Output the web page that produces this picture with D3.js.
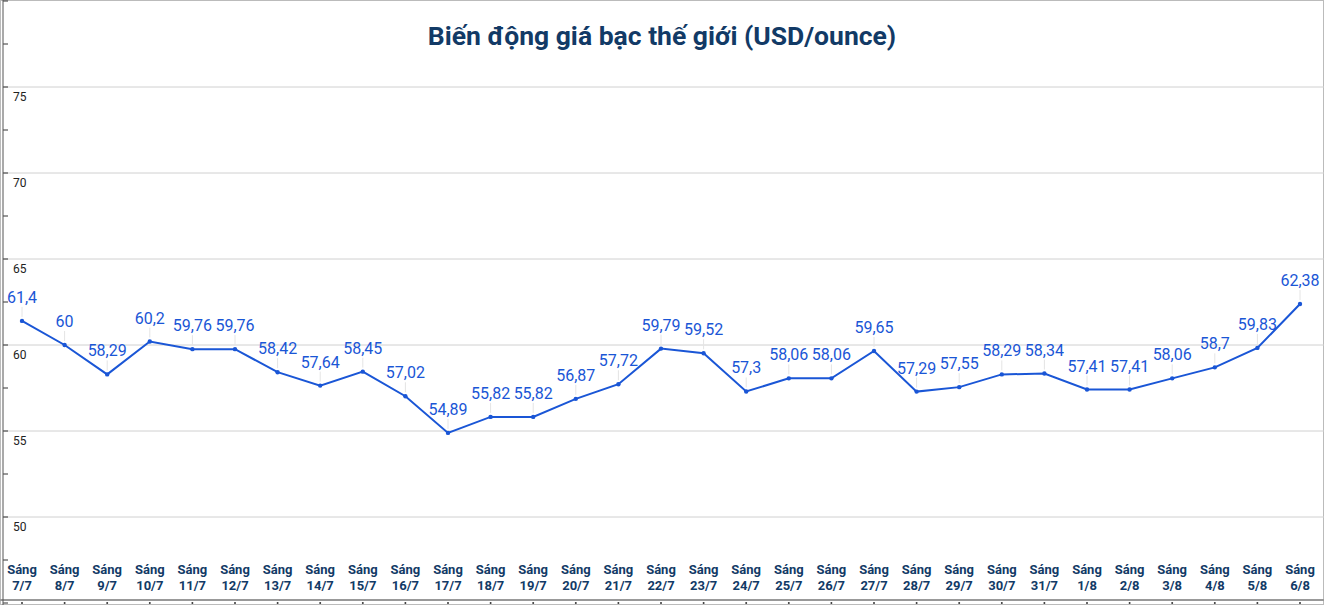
<!DOCTYPE html><html><head><meta charset="utf-8">
<script src="https://cdn.jsdelivr.net/npm/d3@7"></script>
<style>body{margin:0;background:#fff;}svg{display:block;font-family:Roboto,"Noto Sans",sans-serif;}</style></head><body>
<svg id="c" width="1324" height="605"></svg>
<script>
const dates=["7/7","8/7","9/7","10/7","11/7","12/7","13/7","14/7","15/7","16/7","17/7","18/7","19/7","20/7","21/7","22/7","23/7","24/7","25/7","26/7","27/7","28/7","29/7","30/7","31/7","1/8","2/8","3/8","4/8","5/8","6/8"];
const values=[61.4,60,58.29,60.2,59.76,59.76,58.42,57.64,58.45,57.02,54.89,55.82,55.82,56.87,57.72,59.79,59.52,57.3,58.06,58.06,59.65,57.29,57.55,58.29,58.34,57.41,57.41,58.06,58.7,59.83,62.38];
const yTicks=[50,55,60,65,70,75];
const title="Biến động giá bạc thế giới (USD/ounce)";
const svg=d3.select("#c");
svg.append("rect").attr("x",0.5).attr("y",0.5).attr("width",1323).attr("height",604).attr("fill","none").attr("stroke","#bbb");
svg.append("line").attr("x1",0).attr("x2",1324).attr("y1",600).attr("y2",600).attr("stroke","#999").attr("stroke-width",2);
const x=d3.scalePoint().domain(dates).range([22,1300]);
const y=d3.scaleLinear().domain([50,75]).range([517,87]);
svg.append("text").attr("x",662).attr("y",45).attr("text-anchor","middle").attr("font-size",26.5).attr("font-weight","bold").attr("fill","#123a66").text(title);
svg.selectAll(".g").data(yTicks).join("line").attr("x1",3).attr("x2",1324).attr("y1",d=>y(d)).attr("y2",d=>y(d)).attr("stroke","#d0d0d0");
svg.selectAll(".yl").data(yTicks).join("text").attr("x",13).attr("y",d=>y(d)+14).attr("font-size",12).attr("fill","#222").text(d=>d);
const minor=d3.range(45,81,2.5);
svg.selectAll(".mt").data(minor).join("line").attr("x1",3).attr("x2",8).attr("y1",d=>y(d)).attr("y2",d=>y(d)).attr("stroke","#333");
svg.append("line").attr("x1",3).attr("x2",3).attr("y1",0).attr("y2",605).attr("stroke","#555");
const xl=svg.selectAll(".xl").data(dates).join("text").attr("text-anchor","middle").attr("font-size",13).attr("font-weight","bold").attr("fill","#123a66");
xl.append("tspan").attr("x",d=>x(d)).attr("y",574).text("Sáng");
xl.append("tspan").attr("x",d=>x(d)).attr("y",590).text(d=>d);
svg.selectAll(".xt").data(dates).join("circle").attr("cx",d=>x(d)).attr("cy",603).attr("r",1).attr("fill","#333");
const pts=dates.map((d,i)=>({d,v:values[i]}));
svg.selectAll(".ld").data(pts).join("line").attr("x1",p=>x(p.d)).attr("x2",p=>x(p.d)).attr("y1",p=>y(p.v)-4).attr("y2",p=>y(p.v)-14).attr("stroke","#e4e4e4");
svg.append("path").datum(pts).attr("d",d3.line().x(p=>x(p.d)).y(p=>y(p.v))).attr("fill","none").attr("stroke","#1a56d6").attr("stroke-width",2);
svg.selectAll(".pt").data(pts).join("circle").attr("cx",p=>x(p.d)).attr("cy",p=>y(p.v)).attr("r",2.2).attr("fill","#1a56d6");
svg.selectAll(".vl").data(pts).join("text").attr("x",p=>x(p.d)).attr("y",p=>y(p.v)-18).attr("text-anchor","middle").attr("font-size",16).attr("fill","#1a56d6").text(p=>String(p.v).replace(".",","));
</script></body></html>
